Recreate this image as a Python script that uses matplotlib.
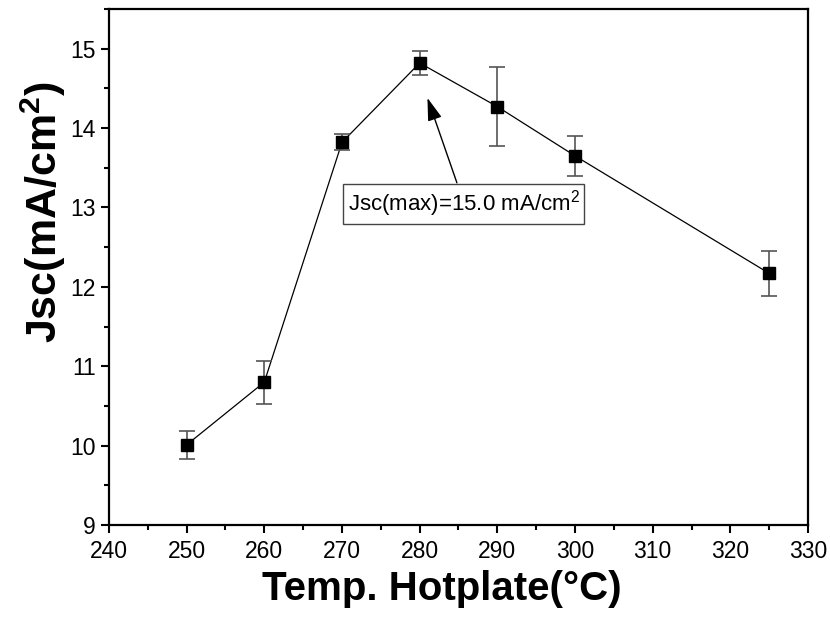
import matplotlib
matplotlib.use("Agg")
import matplotlib.pyplot as plt
from matplotlib.ticker import MultipleLocator

plt.rcParams['font.family'] = ['Liberation Sans', 'DejaVu Sans']
plt.rcParams['mathtext.fontset'] = 'custom'
plt.rcParams['mathtext.rm'] = 'Liberation Sans'
plt.rcParams['mathtext.it'] = 'Liberation Sans:italic'
plt.rcParams['mathtext.bf'] = 'Liberation Sans:bold'

temps = [250, 260, 270, 280, 290, 300, 325]
jsc = [10.01, 10.80, 13.82, 14.82, 14.27, 13.65, 12.17]
jsc_err = [0.18, 0.27, 0.10, 0.15, 0.50, 0.25, 0.28]

x_ticks = [240, 250, 260, 270, 280, 290, 300, 310, 320, 330]
y_ticks = [9, 10, 11, 12, 13, 14, 15]

x_label = 'Temp. Hotplate(°C)'
y_label = r'Jsc(mA/cm$\mathbf{^{2}}$)'
annot_text = r'Jsc(max)=15.0 mA/cm$^{2}$'
annot_tip = (281.0, 14.38)
annot_tail = (284.8, 13.31)
annot_center = (285.7, 13.045)

fig = plt.figure(figsize=(8.3, 6.2), dpi=100)
ax = fig.add_axes([0.1313, 0.1532, 0.8422, 0.8323])

ax.plot(temps, jsc, color='black', lw=0.9, zorder=2)
ax.errorbar(temps, jsc, yerr=jsc_err, fmt='none', ecolor='#555555',
            elinewidth=1.2, capsize=5.5, capthick=1.2, zorder=3)
ax.plot(temps, jsc, ls='none', marker='s', ms=8.2, color='black', zorder=4)

ax.set_xlim(240, 330)
ax.set_ylim(9, 15.5)
ax.set_xticks(x_ticks)
ax.set_yticks(y_ticks)
ax.xaxis.set_minor_locator(MultipleLocator(5))
ax.yaxis.set_minor_locator(MultipleLocator(0.5))
ax.tick_params(which='major', direction='out', length=6, width=1.5, labelsize=16.5,
               top=False, right=False)
ax.tick_params(axis='x', which='major', pad=5)
ax.tick_params(which='minor', direction='out', length=3.5, width=1.5,
               top=False, right=False)
for s in ax.spines.values():
    s.set_linewidth(1.6)

fig.text(442 / 830, 1 - 600 / 620, x_label, fontsize=29, fontweight='bold',
         ha='center', va='baseline')
fig.text(43 / 830, 1 - 212 / 620, y_label, fontsize=31, fontweight='bold',
         ha='center', va='center', rotation=90)

ax.annotate('', xy=annot_tip, xytext=annot_tail,
            arrowprops=dict(arrowstyle='-|>,head_length=0.7,head_width=0.22',
                            color='black', lw=1.0, mutation_scale=20,
                            shrinkA=0, shrinkB=0))
ax.text(annot_center[0], annot_center[1], annot_text, fontsize=16,
        ha='center', va='center',
        bbox=dict(boxstyle='square,pad=0.2', facecolor='white',
                  edgecolor='#444444', linewidth=1.0))

fig.savefig('out.png', dpi=100)
